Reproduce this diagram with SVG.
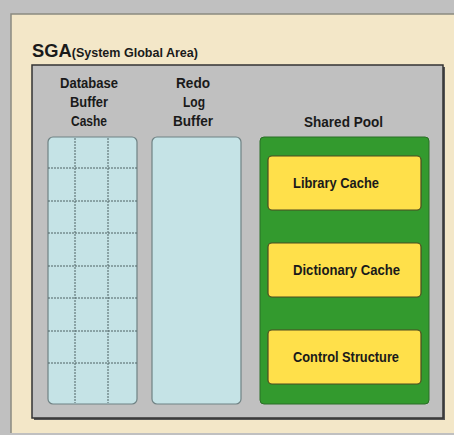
<svg xmlns="http://www.w3.org/2000/svg" width="454" height="435" viewBox="0 0 454 435">
  <defs>
    <style>
      .lbl { font-family: "Liberation Sans", Arial, sans-serif; font-weight: bold; fill: #1a1a1a; }
      .col { fill: #c5e3e6; stroke: #6f8284; stroke-width: 1.2; }
      .grid { stroke: #4f6264; stroke-width: 1; stroke-dasharray: 2 1; fill: none; }
      .cache { fill: #ffe04a; stroke: #4d4a20; stroke-width: 1.2; }
    </style>
  </defs>

  <!-- page background and beige panel -->
  <rect x="0" y="0" width="454" height="435" fill="#c0c0c0"/>
  <rect x="11" y="14" width="443" height="419" fill="#f3e7c8"/>
  <path d="M11 433 V14 H454" fill="none" stroke="#8a8a80" stroke-width="1.5"/>

  <!-- title -->
  <text class="lbl" x="32" y="57" font-size="19" textLength="166" lengthAdjust="spacingAndGlyphs">SGA<tspan font-size="13">(System Global Area)</tspan></text>

  <!-- SGA container -->
  <g id="sga">
    <rect x="34" y="67" width="411" height="353" fill="#555"/>
    <rect x="32" y="65" width="411" height="353" fill="#c0c0c0" stroke="#333" stroke-width="1.5"/>
  </g>

  <!-- Database Buffer Cache -->
  <g id="db-buffer-cache">
    <text class="lbl" x="60" y="88" font-size="14.5" textLength="58" lengthAdjust="spacingAndGlyphs">Database</text>
    <text class="lbl" x="70" y="107" font-size="14.5" textLength="38" lengthAdjust="spacingAndGlyphs">Buffer</text>
    <text class="lbl" x="71" y="126" font-size="14.5" textLength="36" lengthAdjust="spacingAndGlyphs">Cashe</text>
    <rect class="col" x="48" y="137" width="89" height="267" rx="5"/>
    <path class="grid" d="M75 138 V403 M108 138 V403
      M48 168 H137 M48 201 H137 M48 233 H137 M48 266 H137
      M48 298 H137 M48 331 H137 M48 363 H137"/>
  </g>

  <!-- Redo Log Buffer -->
  <g id="redo-log-buffer">
    <text class="lbl" x="176" y="88" font-size="14.5" textLength="34" lengthAdjust="spacingAndGlyphs">Redo</text>
    <text class="lbl" x="183" y="107" font-size="14.5" textLength="22" lengthAdjust="spacingAndGlyphs">Log</text>
    <text class="lbl" x="173" y="126" font-size="14.5" textLength="40" lengthAdjust="spacingAndGlyphs">Buffer</text>
    <rect class="col" x="152" y="137" width="89" height="267" rx="5"/>
  </g>

  <!-- Shared Pool -->
  <g id="shared-pool">
    <text class="lbl" x="304" y="127" font-size="14.5" textLength="79" lengthAdjust="spacingAndGlyphs">Shared  Pool</text>
    <rect x="260" y="137" width="169" height="267" rx="4" fill="#339a2e" stroke="#2a6e26" stroke-width="1"/>
  </g>

  <g id="library-cache">
    <rect class="cache" x="268" y="156" width="153" height="54" rx="4"/>
    <text class="lbl" x="293" y="188" font-size="15.5" textLength="86" lengthAdjust="spacingAndGlyphs">Library Cache</text>
  </g>

  <g id="dictionary-cache">
    <rect class="cache" x="268" y="243" width="153" height="54" rx="4"/>
    <text class="lbl" x="293" y="275" font-size="15.5" textLength="107" lengthAdjust="spacingAndGlyphs">Dictionary Cache</text>
  </g>

  <g id="control-structure">
    <rect class="cache" x="268" y="330" width="153" height="54" rx="4"/>
    <text class="lbl" x="293" y="362" font-size="15.5" textLength="106" lengthAdjust="spacingAndGlyphs">Control Structure</text>
  </g>

  <g id="connectors"></g>
</svg>
